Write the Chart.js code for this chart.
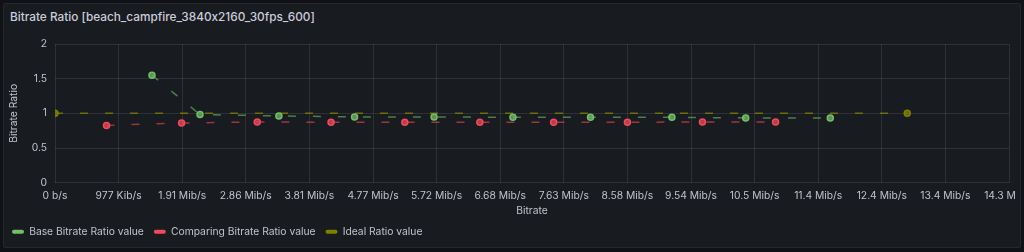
<!DOCTYPE html>
<html>
<head>
<meta charset="utf-8">
<script src="https://cdn.jsdelivr.net/npm/chart.js@4.4.0/dist/chart.umd.min.js"></script>
<style>
  html, body { margin: 0; padding: 0; background: #111217; }
  body { width: 1024px; height: 252px; position: relative; overflow: hidden; font-family: Inter, "Noto Sans", sans-serif; }
  .panel { position: absolute; left: 3px; top: 3px; width: 1016px; height: 243px; background: #181b1f; border: 1px solid #25272c; border-radius: 2px; }
  .title { position: absolute; left: 10px; top: 10px; font-size: 11.8px; font-weight: 500; color: #ccccdc; font-feature-settings: "calt" 0; }
  .clip { position: absolute; left: 0; top: 0; width: 1016px; height: 252px; overflow: hidden; }
  canvas { position: absolute; left: 0; top: 0; }
</style>
</head>
<body>
<div class="panel"></div>
<div class="title">Bitrate Ratio [beach_campfire_3840x2160_30fps_600]</div>
<div class="clip"><canvas id="ratioChart" width="1080" height="252"></canvas></div>
<script>
// bitrate in b/s, ratio
const baseBitrate = [1525000, 2280000, 3520000, 4710000, 5960000, 7200000, 8420000, 9700000, 10860000, 12190000];
const baseRatio = [1.55, 0.982, 0.963, 0.949, 0.949, 0.943, 0.943, 0.943, 0.934, 0.934];
const compBitrate = [810000, 1990000, 3180000, 4340000, 5500000, 6680000, 7840000, 9000000, 10180000, 11330000];
const compRatio = [0.826, 0.861, 0.875, 0.872, 0.872, 0.872, 0.872, 0.872, 0.875, 0.875];
const idealBitrate = [0, 13400000];
const idealRatio = [1, 1];
const xTickLabels = ['0 b/s', '977 Kib/s', '1.91 Mib/s', '2.86 Mib/s', '3.81 Mib/s', '4.77 Mib/s', '5.72 Mib/s', '6.68 Mib/s',
    '7.63 Mib/s', '8.58 Mib/s', '9.54 Mib/s', '10.5 Mib/s', '11.4 Mib/s', '12.4 Mib/s', '13.4 Mib/s', '14.3 Mib/s'];
const yTickLabels = ['0', '0.5', '1', '1.5', '2'];

const textColor = '#c2c2cc';
const gridColor = 'rgba(204, 204, 220, 0.12)';
const smallFont = { family: 'Inter', size: 10.3 };

function toPoints(xs, ys) {
    return xs.map((x, i) => ({ x: x, y: ys[i] }));
}

function series(label, xs, ys, color, lineColor) {
    return {
        label: label,
        data: toPoints(xs, ys),
        borderColor: lineColor,
        backgroundColor: color,
        borderWidth: 1.5,
        borderDash: [8, 17],
        pointRadius: 3,
        pointBorderWidth: 1.5,
        pointBackgroundColor: color + 'bb',
        pointBorderColor: color,
        tension: 0,
        clip: { left: 0, top: false, right: false, bottom: false }
    };
}

const ctx = document.getElementById('ratioChart').getContext('2d');
new Chart(ctx, {
    type: 'line',
    data: {
        datasets: [
            series('Base Bitrate Ratio value', baseBitrate, baseRatio, '#73bf69', 'rgba(115, 191, 105, 0.6)'),
            series('Comparing Bitrate Ratio value', compBitrate, compRatio, '#f2495c', 'rgba(242, 73, 92, 0.6)'),
            series('Ideal Ratio value', idealBitrate, idealRatio, '#808000', 'rgba(128, 128, 0, 0.8)')
        ]
    },
    options: {
        responsive: false,
        animation: false,
        layout: { padding: { left: 2, right: 71, top: 44, bottom: 5 } },
        scales: {
            x: {
                type: 'linear',
                min: 0,
                max: 15000000,
                afterFit: s => { s.height = 34; },
                grid: { color: gridColor, drawTicks: false },
                border: { display: false },
                ticks: {
                    stepSize: 1000000,
                    autoSkip: false,
                    maxRotation: 0,
                    padding: 7,
                    color: textColor,
                    font: smallFont,
                    callback: (v, i) => xTickLabels[i]
                },
                title: { display: true, text: 'Bitrate', color: textColor, padding: { top: 4, bottom: 0 }, font: smallFont }
            },
            y: {
                min: 0,
                max: 2,
                afterFit: s => { s.width = 53; },
                grid: { color: gridColor, drawTicks: false },
                border: { display: false },
                ticks: {
                    stepSize: 0.5,
                    padding: 8,
                    color: textColor,
                    font: smallFont,
                    callback: (v, i) => yTickLabels[i]
                },
                title: { display: true, text: 'Bitrate Ratio', color: textColor, padding: { top: 6, bottom: 4 }, font: smallFont }
            }
        },
        plugins: {
            tooltip: { enabled: false },
            legend: {
                position: 'bottom',
                align: 'start',
                labels: {
                    color: textColor,
                    boxWidth: 12,
                    boxHeight: 4,
                    padding: 10,
                    font: smallFont,
                    generateLabels: chart => chart.data.datasets.map((ds, i) => ({
                        text: ds.label,
                        fillStyle: ds.pointBorderColor,
                        strokeStyle: ds.pointBorderColor,
                        lineWidth: 0,
                        borderRadius: 2,
                        fontColor: textColor,
                        datasetIndex: i
                    }))
                }
            }
        }
    }
});
</script>
</body>
</html>
